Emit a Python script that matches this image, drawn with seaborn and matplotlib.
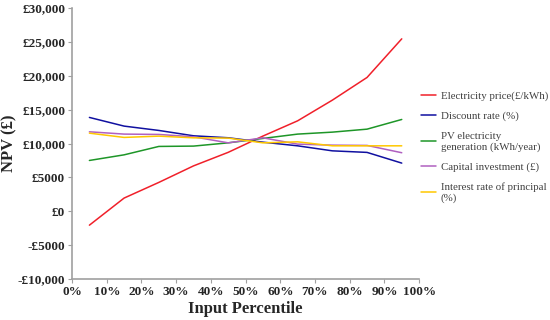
import numpy as np
import pandas as pd
import seaborn as sns
import matplotlib.pyplot as plt

percentile = [5, 15, 25, 35, 45, 55, 65, 75, 85, 95]

electricity_price = [-2050, 1950, 4260, 6700, 8700, 11100, 13350, 16400, 19750, 25450]
discount_rate = [13850, 12570, 11930, 11140, 10850, 10200, 9660, 8920, 8690, 7110]
pv_generation = [7500, 8330, 9570, 9620, 10100, 10750, 11390, 11680, 12120, 13550]
capital_investment = [11730, 11390, 11340, 10990, 10100, 10840, 9910, 9760, 9720, 8640]
interest_rate = [11530, 10900, 11090, 10840, 10800, 10100, 10250, 9660, 9660, 9660]

series_names = ['Electricity price(£/kWh)', 'Discount rate (%)',
                'PV electricity\ngeneration (kWh/year)', 'Capital investment (£)',
                'Interest rate of principal\n(%)']
colors = ['#F0202A', '#1010A0', '#1E9628', '#B060C0', '#FFC800']

yticks = [-10000, -5000, 0, 5000, 10000, 15000, 20000, 25000, 30000]
ytick_labels = ['-£10,000', '-£5000', '£0', '£5000', '£10,000', '£15,000',
                '£20,000', '£25,000', '£30,000']
xticks = list(range(0, 101, 10))
xtick_labels = [f'{v}%' for v in xticks]

all_values = [electricity_price, discount_rate, pv_generation, capital_investment, interest_rate]
frames = []
for name, vals in zip(series_names, all_values):
    frames.append(pd.DataFrame({'percentile': percentile, 'npv': vals, 'series': name}))
df = pd.concat(frames, ignore_index=True)

sns.set_style('white')
plt.rcParams['font.family'] = ['Liberation Serif', 'DejaVu Serif']

fig = plt.figure(figsize=(5.5, 3.2), dpi=100)
ax = fig.add_axes([0.131, 0.128, 0.631, 0.847])

sns.lineplot(data=df, x='percentile', y='npv', hue='series', hue_order=series_names,
             palette=colors, linewidth=1.1, ax=ax)

ax.set_xlim(0, 100)
ax.set_ylim(-10000, 30000)
ax.set_xticks(xticks)
ax.set_xticklabels(xtick_labels, fontsize=9.5, fontweight='bold')
ax.set_yticks(yticks)
ax.set_yticklabels(ytick_labels, fontsize=9.5, fontweight='bold')
ax.tick_params(axis='both', length=3, width=0.8, color='#a0a0a0', pad=2)
ax.tick_params(axis='x', direction='out', bottom=True)
ax.tick_params(axis='y', direction='out', left=True)

for side in ['top', 'right']:
    ax.spines[side].set_visible(False)
for side in ['left', 'bottom']:
    ax.spines[side].set_color('#a0a0a0')
    ax.spines[side].set_linewidth(1.2)

ax.set_xlabel('Input Percentile', fontsize=12, fontweight='bold', labelpad=2)
ax.set_ylabel('NPV (£)', fontsize=12, fontweight='bold', labelpad=0)

leg = ax.legend(loc='upper left', bbox_to_anchor=(1.0, 0.70), frameon=False,
                fontsize=7.8, handlelength=1.4, handletextpad=0.4,
                labelspacing=0.95, borderaxespad=0.0, borderpad=0.2)
for t in leg.get_texts():
    t.set_color('#404040')

fig.savefig('out.png', dpi=100)
